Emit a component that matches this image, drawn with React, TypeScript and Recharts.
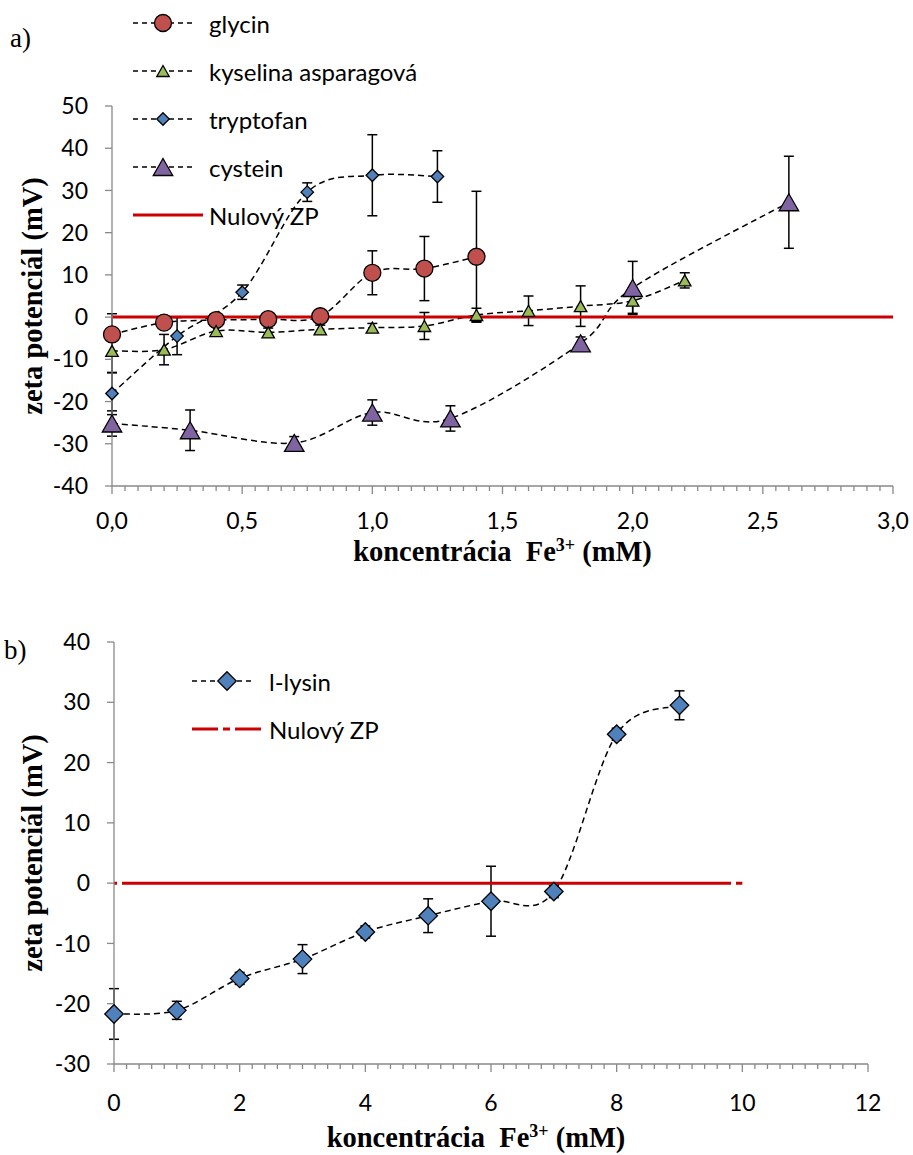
import { ComposedChart, ErrorBar, Legend, Line, XAxis, YAxis } from 'recharts';

const SANS = 'Lato, "Open Sans", sans-serif';
const SERIF = '"Liberation Serif", "Times New Roman", serif';
const AXIS = '#898989';
const ZERO_RED = '#CC0000';
const TICK_FONT = 23;
const LEGEND_FONT = 24;
const TITLE_FONT = 28.5;

// a) zeta potenciál aminokyselín vs. koncentrácia Fe3+ (mM)
const glycinX = [0, 0.2, 0.4, 0.6, 0.8, 1.0, 1.2, 1.4];
const glycinY = [-4.1, -1.3, -0.7, -0.5, 0.2, 10.5, 11.5, 14.3];
const glycinErr = [4.9, 0.8, 0.8, 0.8, 1.5, 5.2, 7.6, 15.5];

const asparagovaX = [0, 0.2, 0.4, 0.6, 0.8, 1.0, 1.2, 1.4, 1.6, 1.8, 2.0, 2.2];
const asparagovaY = [-8.0, -7.7, -3.3, -3.6, -2.9, -2.5, -2.1, 0.5, 1.5, 2.6, 3.9, 8.7];
const asparagovaErr = [5.2, 3.6, 1, 1, 1, 1, 3.2, 1.6, 3.5, 4.8, 3, 1.8];

const tryptofanX = [0, 0.25, 0.5, 0.75, 1.0, 1.25];
const tryptofanY = [-18.1, -4.5, 5.9, 29.6, 33.6, 33.3];
const tryptofanErr = [5, 4.4, 1.7, 2.2, 9.6, 6.1];

const cysteinX = [0, 0.3, 0.7, 1.0, 1.3, 1.8, 2.0, 2.6];
const cysteinY = [-25.2, -26.8, -29.8, -22.6, -24.0, -6.2, 6.9, 27.2];
const cysteinErr = [3, 4.8, 1.5, 3, 3, 1.5, 6.3, 10.9];

const zeroAX = [0, 3];
const zeroAY = [0, 0];

const xMajorA = [0, 0.5, 1.0, 1.5, 2.0, 2.5, 3.0];
const yTicksA = [-40, -30, -20, -10, 0, 10, 20, 30, 40, 50];

// b) l-lysin
const lysinX = [0, 1, 2, 3, 4, 5, 6, 7, 8, 9];
const lysinY = [-21.7, -21.1, -15.8, -12.6, -8.1, -5.4, -3.0, -1.4, 24.7, 29.5];
const lysinErr = [4.2, 1.5, 1, 2.4, 1, 2.8, 5.8, 1, 1, 2.4];

const zeroBX = [0, 10];
const zeroBY = [0, 0];

const xMajorB = [0, 2, 4, 6, 8, 10, 12];
const yTicksB = [-30, -20, -10, 0, 10, 20, 30, 40];

type Pt = { x: number; y: number; err: number };
const zip = (xs: number[], ys: number[], es?: number[]): Pt[] =>
  xs.map((x, i) => ({ x, y: ys[i], err: es ? es[i] : 0 }));

// major + minor tick positions along the x axis
const withMinor = (major: number[], parts: number) => {
  const out: number[] = [];
  for (let i = 0; i < major.length - 1; i++) {
    const step = (major[i + 1] - major[i]) / parts;
    for (let k = 0; k < parts; k++) out.push(+(major[i] + k * step).toFixed(4));
  }
  out.push(major[major.length - 1]);
  return out;
};

// Excel-ish smoothed line: Catmull-Rom through the points as cubic Beziers
const excelSmooth = (context: any) => {
  let pts: [number, number][] = [];
  return {
    areaStart() {},
    areaEnd() {},
    lineStart() {
      pts = [];
    },
    point(x: number, y: number) {
      pts.push([+x, +y]);
    },
    lineEnd() {
      if (!pts.length) return;
      context.moveTo(pts[0][0], pts[0][1]);
      for (let i = 0; i < pts.length - 1; i++) {
        const p0 = pts[i - 1] ?? pts[i];
        const p1 = pts[i];
        const p2 = pts[i + 1];
        const p3 = pts[i + 2] ?? p2;
        context.bezierCurveTo(
          p1[0] + (p2[0] - p0[0]) / 6,
          p1[1] + (p2[1] - p0[1]) / 6,
          p2[0] - (p3[0] - p1[0]) / 6,
          p2[1] - (p3[1] - p1[1]) / 6,
          p2[0],
          p2[1],
        );
      }
    },
  };
};

type MarkerSpec = { shape: 'circle' | 'triangle' | 'diamond'; w: number; h: number; fill: string };

function Marker({ cx, cy, m }: { cx?: number; cy?: number; m: MarkerSpec }) {
  if (cx == null || cy == null) return null;
  const common = { fill: m.fill, stroke: '#000', strokeWidth: 1.3 };
  if (m.shape === 'circle') return <circle cx={cx} cy={cy} r={m.w / 2} {...common} />;
  const hw = m.w / 2;
  const hh = m.h / 2;
  const points =
    m.shape === 'triangle'
      ? `${cx},${cy - hh} ${cx + hw},${cy + hh} ${cx - hw},${cy + hh}`
      : `${cx},${cy - hh} ${cx + hw},${cy} ${cx},${cy + hh} ${cx - hw},${cy}`;
  return <polygon points={points} {...common} />;
}

interface SeriesDef {
  id: string;
  label: string;
  data: Pt[];
  marker: MarkerSpec;
}

const seriesA: SeriesDef[] = [
  { id: 'glycin', label: 'glycin', data: zip(glycinX, glycinY, glycinErr), marker: { shape: 'circle', w: 17, h: 17, fill: '#C0504D' } },
  { id: 'asp', label: 'kyselina asparagová', data: zip(asparagovaX, asparagovaY, asparagovaErr), marker: { shape: 'triangle', w: 12.5, h: 11, fill: '#9BBB59' } },
  { id: 'trp', label: 'tryptofan', data: zip(tryptofanX, tryptofanY, tryptofanErr), marker: { shape: 'diamond', w: 12.5, h: 12.5, fill: '#4F81BD' } },
  { id: 'cys', label: 'cystein', data: zip(cysteinX, cysteinY, cysteinErr), marker: { shape: 'triangle', w: 19.5, h: 17, fill: '#8064A2' } },
];

const seriesB: SeriesDef[] = [
  { id: 'lys', label: 'l-lysin', data: zip(lysinX, lysinY, lysinErr), marker: { shape: 'diamond', w: 18.5, h: 18.5, fill: '#4F81BD' } },
];

const DASH = '6 4';
const ZERO_B_DASH = '3 5 609 5 7';

function XTick(props: any) {
  const { x, y, payload, step, fmt, labelDy } = props;
  const v = payload.value as number;
  const major = Math.abs(v / step - Math.round(v / step)) < 1e-6;
  return (
    <g>
      <line x1={x} x2={x} y1={y} y2={y + (major ? 8 : 5)} stroke={AXIS} strokeWidth={1.3} />
      {major && (
        <text x={x} y={y + labelDy} textAnchor="middle" dominantBaseline="central" fill="#000" fontSize={TICK_FONT} fontFamily={SANS}>
          {fmt(v)}
        </text>
      )}
    </g>
  );
}

function XTitle({ viewBox, baseline, dx }: any) {
  const { x, y, width } = viewBox;
  return (
    <text x={x + width / 2 + dx} y={y + baseline} textAnchor="middle" fill="#000" fontFamily={SERIF} fontWeight={700} fontSize={TITLE_FONT} style={{ whiteSpace: 'pre' }}>
      koncentrácia  Fe
      <tspan dy={-10} fontSize={18}>3+</tspan>
      <tspan dy={10}> (mM)</tspan>
    </text>
  );
}

const yTitle = (offset: number) => ({
  value: 'zeta potenciál (mV)',
  angle: -90,
  position: 'insideLeft' as const,
  offset,
  style: { textAnchor: 'middle', fontFamily: SERIF, fontWeight: 700, fontSize: TITLE_FONT, fill: '#000' },
});

function LegendBox({ items, rows, x0, x1, markX, textX, zeroDash }: any) {
  return (
    <svg width={500} height={260} style={{ display: 'block' }}>
      {items.map((s: SeriesDef, i: number) => (
        <g key={s.id}>
          <line x1={x0} x2={x1} y1={rows[i]} y2={rows[i]} stroke="#000" strokeWidth={1.5} strokeDasharray="5 4" />
          <Marker cx={markX} cy={rows[i]} m={s.marker} />
          <text x={textX} y={rows[i]} dominantBaseline="central" fontFamily={SANS} fontSize={LEGEND_FONT} fill="#000">
            {s.label}
          </text>
        </g>
      ))}
      <line
        x1={x0}
        x2={x1 + 10}
        y1={rows[items.length]}
        y2={rows[items.length]}
        stroke={ZERO_RED}
        strokeWidth={3}
        strokeDasharray={zeroDash}
      />
      <text x={textX} y={rows[items.length]} dominantBaseline="central" fontFamily={SANS} fontSize={LEGEND_FONT} fill="#000">
        Nulový ZP
      </text>
    </svg>
  );
}

function renderSeries(s: SeriesDef) {
  return (
    <Line
      key={s.id}
      data={s.data}
      dataKey="y"
      name={s.label}
      type={excelSmooth as any}
      stroke="#000"
      strokeWidth={1.5}
      strokeDasharray={DASH}
      isAnimationActive={false}
      activeDot={false}
      dot={(p: any) => <Marker key={`${s.id}-${p.index}`} cx={p.cx} cy={p.cy} m={s.marker} />}
    >
      <ErrorBar dataKey="err" direction="y" width={5} stroke="#000" strokeWidth={1.5} />
    </Line>
  );
}

const fmtA = (v: number) => v.toFixed(1).replace('.', ',');
const fmtB = (v: number) => String(v);

function ChartA() {
  return (
    <ComposedChart width={913} height={575} margin={{ top: 106, right: 20, bottom: 14, left: 0 }}>
      <XAxis
        type="number"
        dataKey="x"
        domain={[0, 3]}
        ticks={withMinor(xMajorA, 10)}
        interval={0}
        height={75}
        tickSize={0}
        tickMargin={0}
        tickLine={false}
        axisLine={{ stroke: AXIS, strokeWidth: 1.3 }}
        tick={(p: any) => <XTick {...p} step={0.5} fmt={fmtA} labelDy={34} />}
        label={{ content: (p: any) => <XTitle viewBox={p.viewBox} baseline={75} dx={0} /> }}
      />
      <YAxis
        type="number"
        domain={[-40, 50]}
        ticks={yTicksA}
        interval={0}
        width={112}
        tickSize={7}
        tickMargin={17}
        axisLine={{ stroke: AXIS, strokeWidth: 1.3 }}
        tickLine={{ stroke: AXIS, strokeWidth: 1.3 }}
        tick={{ fill: '#000', fontSize: TICK_FONT, fontFamily: SANS }}
        label={yTitle(32)}
      />
      <Legend
        layout="vertical"
        align="center"
        verticalAlign="middle"
        wrapperStyle={{ left: 0, top: 0, width: 500, height: 260 }}
        content={() => (
          <LegendBox items={seriesA} rows={[23, 71, 119, 167, 215]} x0={133} x1={193} markX={163} textX={209} />
        )}
      />
      {seriesA.map(renderSeries)}
      <Line
        data={zip(zeroAX, zeroAY)}
        dataKey="y"
        name="Nulový ZP"
        type="linear"
        stroke={ZERO_RED}
        strokeWidth={3}
        dot={false}
        activeDot={false}
        isAnimationActive={false}
      />
    </ComposedChart>
  );
}

function ChartB() {
  return (
    <ComposedChart width={913} height={575} margin={{ top: 62, right: 45, bottom: 16, left: 0 }}>
      <XAxis
        type="number"
        dataKey="x"
        domain={[0, 12]}
        ticks={withMinor(xMajorB, 10)}
        interval={0}
        height={75}
        tickSize={0}
        tickMargin={0}
        tickLine={false}
        axisLine={{ stroke: AXIS, strokeWidth: 1.3 }}
        tick={(p: any) => <XTick {...p} step={2} fmt={fmtB} labelDy={38} />}
        label={{ content: (p: any) => <XTitle viewBox={p.viewBox} baseline={83} dx={-15} /> }}
      />
      <YAxis
        type="number"
        domain={[-30, 40]}
        ticks={yTicksB}
        interval={0}
        width={114}
        tickSize={7}
        tickMargin={17}
        axisLine={{ stroke: AXIS, strokeWidth: 1.3 }}
        tickLine={{ stroke: AXIS, strokeWidth: 1.3 }}
        tick={{ fill: '#000', fontSize: TICK_FONT, fontFamily: SANS }}
        label={yTitle(32)}
      />
      <Legend
        layout="vertical"
        align="center"
        verticalAlign="middle"
        wrapperStyle={{ left: 0, top: 0, width: 500, height: 260 }}
        content={() => (
          <LegendBox items={seriesB} rows={[101, 149]} x0={192} x1={251} markX={227} textX={269} zeroDash="26 5 7 5" />
        )}
      />
      {seriesB.map(renderSeries)}
      <Line
        data={zip(zeroBX, zeroBY)}
        dataKey="y"
        name="Nulový ZP"
        type="linear"
        stroke={ZERO_RED}
        strokeWidth={3}
        strokeDasharray={ZERO_B_DASH}
        dot={false}
        activeDot={false}
        isAnimationActive={false}
      />
    </ComposedChart>
  );
}

const panelLabel: React.CSSProperties = {
  position: 'absolute',
  fontFamily: SERIF,
  fontSize: 27,
  lineHeight: 1,
  color: '#000',
};

export default function App() {
  return (
    <div style={{ position: 'absolute', left: 0, top: 0, width: 913, height: 1155, background: '#fff' }}>
      <div style={{ position: 'absolute', left: 0, top: 0 }}>
        <ChartA />
      </div>
      <div style={{ position: 'absolute', left: 0, top: 580 }}>
        <ChartB />
      </div>
      <div style={{ ...panelLabel, left: 10, top: 25 }}>a)</div>
      <div style={{ ...panelLabel, left: 4, top: 637 }}>b)</div>
    </div>
  );
}
